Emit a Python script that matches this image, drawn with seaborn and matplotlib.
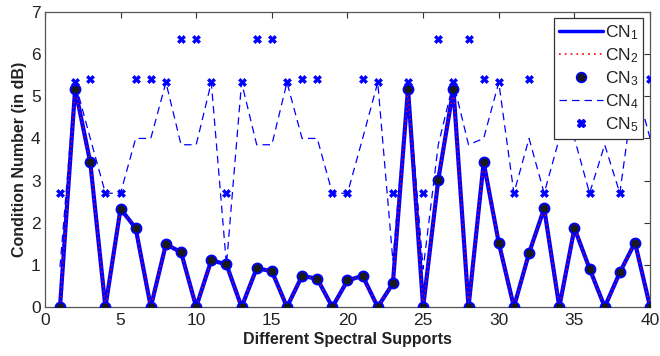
import matplotlib
matplotlib.use('Agg')
import matplotlib.pyplot as plt
from matplotlib.lines import Line2D
import numpy as np
import pandas as pd
import seaborn as sns

supports = list(range(1, 41))
cn1 = [0, 5.18, 3.43, 0, 2.33, 1.87, 0, 1.49, 1.30, 0,
       1.11, 1.01, 0, 0.92, 0.85, 0, 0.74, 0.67, 0, 0.63,
       0.74, 0, 0.56, 5.18, 0, 3.02, 5.18, 0, 3.43, 1.52,
       0, 1.28, 2.34, 0, 1.87, 0.91, 0, 0.82, 1.53, 0]
cn4 = [0.95, 5.33, 4.0, 2.7, 2.7, 4.0, 4.0, 5.33, 3.85, 3.85,
       5.33, 1.0, 5.33, 3.85, 3.85, 5.33, 4.0, 4.0, 2.7, 2.7,
       4.0, 5.33, 1.1, 5.33, 0.9, 3.85, 5.33, 3.85, 4.0, 5.33,
       2.7, 4.0, 2.7, 4.0, 4.0, 2.7, 3.85, 2.7, 5.33, 4.0]
cn5 = [2.7, 5.33, 5.4, 2.7, 2.7, 5.4, 5.4, 5.33, 6.35, 6.35,
       5.33, 2.7, 5.33, 6.35, 6.35, 5.33, 5.4, 5.4, 2.7, 2.7,
       5.4, 5.33, 2.7, 5.33, 2.7, 6.35, 5.33, 6.35, 5.4, 5.33,
       2.7, 5.4, 2.7, 5.4, 5.4, 2.7, 6.35, 2.7, 5.33, 5.4]
labels = ['CN$_1$', 'CN$_2$', 'CN$_3$', 'CN$_4$', 'CN$_5$']
xticks = [0, 5, 10, 15, 20, 25, 30, 35, 40]
yticks = [0, 1, 2, 3, 4, 5, 6, 7]

sns.set_theme(style='white')
plt.rcParams['font.family'] = ['Liberation Sans', 'DejaVu Sans']
plt.rcParams['mathtext.fontset'] = 'custom'
plt.rcParams['mathtext.rm'] = 'Liberation Sans'
plt.rcParams['mathtext.it'] = 'Liberation Sans:italic'
plt.rcParams['mathtext.bf'] = 'Liberation Sans:bold'

df = pd.DataFrame({'x': supports, 'cn1': cn1, 'cn4': cn4, 'cn5': cn5})

fig = plt.figure(figsize=(6.6, 3.56), dpi=100)
ax = fig.add_axes([0.068, 0.1376, 0.917, 0.8287])

blue = '#0000ff'
sns.lineplot(data=df, x='x', y='cn1', ax=ax, color=blue, lw=3.0, zorder=2)
sns.lineplot(data=df, x='x', y='cn1', ax=ax, color='red', lw=1.0,
             linestyle=(0, (1, 2.5)), zorder=3)
sns.scatterplot(data=df, x='x', y='cn1', ax=ax, color='#1a1a1a', edgecolor=blue,
                s=52, linewidth=1.3, zorder=4)
sns.lineplot(data=df, x='x', y='cn4', ax=ax, color=blue, lw=0.9,
             linestyle=(0, (6, 4)), zorder=2.5)
sns.scatterplot(data=df, x='x', y='cn5', ax=ax, color=blue, marker='X',
                s=34, linewidth=0.4, edgecolor=blue, zorder=4)

ax.set_xlim(0, 40)
ax.set_ylim(0, 7)
ax.set_xticks(xticks)
ax.set_yticks(yticks)
ax.set_xticklabels([str(t) for t in xticks])
ax.set_yticklabels([str(t) for t in yticks])
ax.tick_params(direction='in', length=4.5, width=0.8, top=True, right=True,
               labelsize=12.5, colors='#333333', labelcolor='#222222', pad=3)
ax.tick_params(axis='x', pad=4.5)
for s in ax.spines.values():
    s.set_color('#555555')
    s.set_linewidth(0.9)
ax.set_xlabel('Different Spectral Supports', fontsize=11.5, fontweight='bold',
              color='#222222', labelpad=3)
ax.set_ylabel('Condition Number (in dB)', fontsize=11.5, fontweight='bold',
              color='#222222', labelpad=3)

handles = [
    Line2D([], [], color=blue, lw=2.5),
    Line2D([], [], color='red', lw=1.2, linestyle=(0, (1, 2.5))),
    Line2D([], [], color='#1a1a1a', marker='o', markeredgecolor=blue, markersize=7,
           markeredgewidth=1.2, linestyle='None'),
    Line2D([], [], color=blue, lw=0.9, linestyle=(0, (6, 4))),
    Line2D([], [], color=blue, marker='X', markersize=6, linestyle='None'),
]
leg = ax.legend(handles, labels, loc='upper right', bbox_to_anchor=(0.989, 0.98),
                borderaxespad=0, fontsize=12.5, handlelength=2.5, handletextpad=0.1,
                labelspacing=0.25, borderpad=0.3, fancybox=False, framealpha=1,
                edgecolor='#333333')
leg.get_frame().set_linewidth(0.9)
for t in leg.get_texts():
    t.set_color('#222222')

fig.savefig('out.png', dpi=100)
